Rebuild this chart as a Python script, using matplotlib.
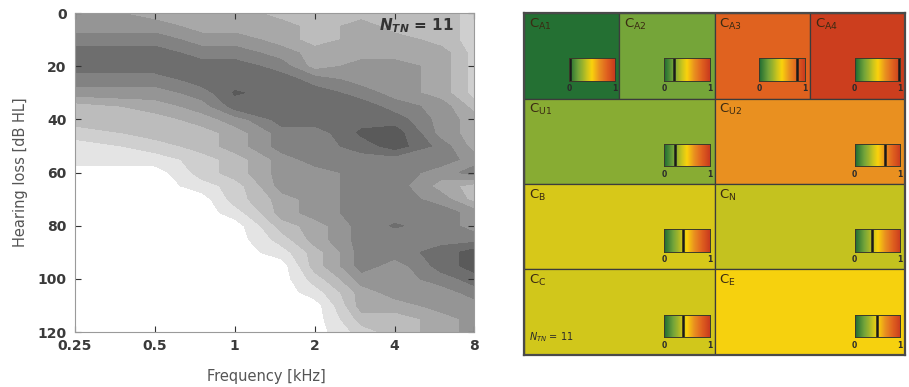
import numpy as np
import matplotlib
matplotlib.use("Agg")
import matplotlib.pyplot as plt
from matplotlib.colors import LinearSegmentedColormap
from matplotlib.patches import Rectangle
from matplotlib.ticker import NullLocator

plt.rcParams["mathtext.fontset"] = "custom"
plt.rcParams["mathtext.bf"] = "DejaVu Sans:italic:bold"

# audiogram density: one list per frequency, values from 0 dB HL to 120 dB HL in 5 dB steps
freqs = [0.25, 0.5, 0.75, 1, 1.5, 2, 3, 4, 6, 8]
hearing_levels = list(range(0, 125, 5))
density_250 = [5, 5, 6, 7, 7, 6, 5, 3, 3, 2, 1, 1, 0, 0, 0, 0, 0, 0, 0, 0, 0, 0, 0, 0, 0]
density_500 = [4, 5, 6, 7, 7, 6, 5, 4, 3, 3, 2, 1, 0, 0, 0, 0, 0, 0, 0, 0, 0, 0, 0, 0, 0]
density_750 = [4, 4, 5, 6, 7, 7, 6, 5, 4, 3, 3, 2, 2, 1, 0, 0, 0, 0, 0, 0, 0, 0, 0, 0, 0]
density_1k = [4, 4, 5, 6, 7, 7, 7.6, 7, 5, 4, 4, 3, 3, 2, 2, 1, 0, 0, 0, 0, 0, 0, 0, 0, 0]
density_1k5 = [3, 4, 4, 5, 6, 7, 7, 7, 7, 6, 6, 5, 5, 5, 4, 4, 3, 2, 1, 0, 0, 0, 0, 0, 0]
density_2k = [3, 3, 3, 4, 4, 6, 7, 7, 7, 6, 6, 6, 5, 5, 5, 5, 4, 4, 3, 3, 2, 1, 0, 0, 0]
density_3k = [3, 4, 4, 4, 5, 5, 6, 7, 7, 7.7, 7, 6, 6, 6, 6, 6, 6, 6, 6, 6, 5, 4, 4, 3, 2]
density_4k = [3, 3, 4, 4, 5, 5, 5, 6, 7, 8, 8, 6, 6, 6, 6, 6, 6.6, 6, 6, 5, 5, 5, 4, 3, 3]
density_6k = [3, 3, 3, 4, 4, 4, 4, 5, 5, 5, 6, 6, 5, 4, 5, 6, 6, 6, 7, 7, 6, 5, 5, 4, 4]
density_8k = [2, 2, 2, 2, 2, 2, 2, 3, 4, 4, 4, 5, 6, 3, 3, 5, 5, 6, 8, 8, 7, 6, 5, 5, 5]
n_tn = 11

# cluster scores shown in the grid on the right
cell_labels = ["A1", "A2", "A3", "A4", "U1", "U2", "B", "N", "C", "E"]
cell_values = [0.02, 0.21, 0.82, 0.98, 0.25, 0.66, 0.42, 0.38, 0.41, 0.49]

density = np.array([density_250, density_500, density_750, density_1k, density_1k5,
                    density_2k, density_3k, density_4k, density_6k, density_8k]).T

grays = ["#ffffff", "#e4e4e4", "#cfcfcf", "#bcbcbc", "#a8a8a8",
         "#959595", "#828282", "#6e6e6e", "#5a5a5a"]

score_cmap = LinearSegmentedColormap.from_list(
    "score",
    [(0.0, "#1c6a32"), (0.2, "#72a43a"), (0.3, "#9db42c"), (0.4, "#cec61c"),
     (0.5, "#fad20c"), (0.66, "#e99020"), (0.82, "#e0621f"), (1.0, "#c93a1e")])

fig = plt.figure(figsize=(9.09, 3.87), dpi=100)

# contour of audiograms
ax = fig.add_axes([0.0825, 0.142, 0.4395, 0.824])
ax.contourf(freqs, hearing_levels, density, levels=np.arange(-0.5, 9.0, 1.0), colors=grays)
ax.set_xscale("log")
ax.set_xlim(0.25, 8)
ax.set_ylim(120, 0)
ax.set_xticks([0.25, 0.5, 1, 2, 4, 8])
ax.set_xticklabels(["0.25", "0.5", "1", "2", "4", "8"])
ax.xaxis.set_minor_locator(NullLocator())
ax.set_yticks(range(0, 121, 20))
ax.tick_params(direction="in", top=True, right=True, length=4, width=0.8,
               color="#333333", labelcolor="#3a3a3a", labelsize=10)
ax.tick_params(axis="y", pad=6)
ax.tick_params(axis="x", pad=5)
for lab in ax.get_xticklabels() + ax.get_yticklabels():
    lab.set_fontweight("bold")
for sp in ax.spines.values():
    sp.set_color("#9a9a9a")
    sp.set_linewidth(0.8)
ax.set_xlabel("Frequency [kHz]", fontsize=10.5, color="#555555")
ax.set_ylabel("Hearing loss [dB HL]", fontsize=10.5, color="#555555", labelpad=7)
ax.xaxis.set_label_coords(0.478, -0.115)
ax.text(0.95, 0.962, r"$\mathbf{N_{TN}}$ = %d" % n_tn, transform=ax.transAxes,
        ha="right", va="center", fontsize=11, fontweight="bold", color="#333333")

# grid of cluster scores
gx = fig.add_axes([0.5765, 0.0827, 0.4191, 0.8837])
gx.set_xlim(0, 4)
gx.set_ylim(0, 4)
gx.set_xticks([])
gx.set_yticks([])
for sp in gx.spines.values():
    sp.set_color("#4a4a4a")
    sp.set_linewidth(1.6)

bar_w, bar_h = 0.48, 0.26
for i, (name, val) in enumerate(zip(cell_labels, cell_values)):
    if i < 4:
        x0, w, row = i, 1, 0
    else:
        x0, w, row = 2 * ((i - 4) % 2), 2, 1 + (i - 4) // 2
    y_top = 4 - row
    gx.add_patch(Rectangle((x0, y_top - 1), w, 1, facecolor=score_cmap(val),
                           edgecolor="#3c3c3c", linewidth=0.9))
    gx.text(x0 + 0.05, y_top - 0.04, r"$\mathregular{C_{%s}}$" % name,
            ha="left", va="top", fontsize=9.5, color="#3a2a12")

    # small colour bar with the score marked
    cb = gx.inset_axes([x0 + w - 0.05 - bar_w, y_top - 0.79, bar_w, bar_h],
                       transform=gx.transData)
    cb.imshow(np.linspace(0, 1, 256)[None, :], cmap=score_cmap, aspect="auto",
              extent=[0, 1, 0, 1], vmin=0, vmax=1)
    cb.axvline(val, color="#1a1a1a", linewidth=1.8)
    cb.set_xlim(0, 1)
    cb.set_xticks([0, 1])
    cb.set_xticklabels(["0", "1"])
    cb.set_yticks([])
    cb.tick_params(length=0, pad=2.5, labelsize=5.5, labelcolor="#2a2a2a")
    for lab in cb.get_xticklabels():
        lab.set_fontweight("bold")
    for sp in cb.spines.values():
        sp.set_color("#3a3a2a")
        sp.set_linewidth(0.7)

gx.text(0.05, 0.21, r"$N_{TN}$ = %d" % n_tn, ha="left", va="center",
        fontsize=7, color="#2a2a2a")

fig.savefig("out.png", dpi=100)
